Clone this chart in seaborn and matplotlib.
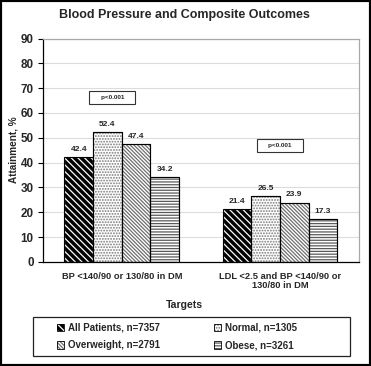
import matplotlib
matplotlib.use("Agg")
import matplotlib.pyplot as plt
import numpy as np
import pandas as pd
import seaborn as sns
from matplotlib.legend_handler import HandlerTuple
from matplotlib.patches import Patch, Rectangle

# data
targets = ["BP <140/90 or 130/80 in DM", "LDL <2.5 and BP <140/90 or\n130/80 in DM"]
groups = ["All Patients, n=7357", "Normal, n=1305", "Overweight, n=2791", "Obese, n=3261"]
all_patients = [42.4, 21.4]
normal = [52.4, 26.5]
overweight = [47.4, 23.9]
obese = [34.2, 17.3]
p_labels = ["p<0.001", "p<0.001"]

rows = []
for g, vals in zip(groups, [all_patients, normal, overweight, obese]):
    for t, v in zip(targets, vals):
        rows.append({"Targets": t, "Group": g, "Attainment": v})
df = pd.DataFrame(rows)

sns.set_style("white")
plt.rcParams["font.family"] = ["Liberation Sans", "DejaVu Sans"]
plt.rcParams["font.weight"] = "bold"
plt.rcParams["hatch.linewidth"] = 0.9

# fill style per group: face colour, hatch, hatch colour
faces = ["black", "white", "white", "white"]
hatches = ["\\" * 5, "." * 6, "\\" * 9, "-" * 6]
hatch_cols = ["white", "#7a7a7a", "#707070", "#5a5a5a"]

fig = plt.figure(figsize=(3.71, 3.66), dpi=100)
ax = fig.add_axes([0.115, 0.2842, 0.8527, 0.6106])

sns.barplot(data=df, x="Targets", y="Attainment", hue="Group", hue_order=groups,
            palette=faces, width=0.725, linewidth=0.8, legend=False, ax=ax)

for i, cont in enumerate(ax.containers):
    for p in cont:
        p.set_facecolor(faces[i])
        p.set_edgecolor(hatch_cols[i])
        p.set_hatch(hatches[i])
        # black outline on top of the hatch
        ax.add_patch(Rectangle(p.get_xy(), p.get_width(), p.get_height(),
                               fill=False, edgecolor="black", linewidth=0.8, zorder=3))
    ax.bar_label(cont, fmt="%.1f", padding=3, fontsize=6, fontweight="bold")

ax.set_ylim(0, 90)
ax.set_yticks(np.arange(0, 91, 10))
ax.set_xlim(-0.5, 1.5)
ax.set_xticks([0, 1])
ax.set_xticklabels(targets, fontsize=6.7, fontweight="bold", linespacing=1.1)
ax.set_xticks([-0.5, 0.5, 1.5], minor=True)
ax.tick_params(axis="x", which="major", length=0, pad=7)
ax.tick_params(axis="x", which="minor", length=4, width=0.8, direction="out", color="black")
ax.tick_params(axis="y", length=3.5, width=0.8, direction="out", color="black",
               labelsize=8.4, pad=3, left=True)
for lab in ax.get_yticklabels():
    lab.set_fontweight("bold")
ax.set_xlabel("")
ax.set_ylabel("")
ax.yaxis.grid(True, color="#dcdcdc", linewidth=0.8)
ax.set_axisbelow(True)
for s in ["left", "bottom"]:
    ax.spines[s].set_color("black")
    ax.spines[s].set_linewidth(0.9)
for s in ["top", "right"]:
    ax.spines[s].set_color("#a8a8a8")
    ax.spines[s].set_linewidth(0.9)

# p-value boxes
for x, y, lab in zip([-0.06, 1.0], [66.2, 47.0], p_labels):
    ax.text(x, y, "    " + lab + "    ", ha="center", va="center", fontsize=4.6,
            fontweight="bold",
            bbox=dict(boxstyle="square,pad=0.65", facecolor="white",
                      edgecolor="#333333", linewidth=0.8),
            zorder=5)

fig.text(184 / 371, 1 - 15 / 366, "Blood Pressure and Composite Outcomes",
         ha="center", va="center", fontsize=9, fontweight="bold")
fig.text(14 / 371, 1 - 150 / 366, "Attainment, %", ha="center", va="center",
         rotation=90, fontsize=7.2, fontweight="bold")
fig.text(184 / 371, 1 - 305 / 366, "Targets", ha="center", va="center",
         fontsize=7.6, fontweight="bold")

# legend
handles = []
for i in range(4):
    h = Patch(facecolor=faces[i], edgecolor=hatch_cols[i], hatch=hatches[i], linewidth=0)
    o = Patch(fill=False, edgecolor="black", linewidth=0.6)
    handles.append((h, o))
order = [0, 2, 1, 3]
leg = fig.legend([handles[k] for k in order], [groups[k] for k in order],
                 handler_map={tuple: HandlerTuple(ndivide=1)},
                 loc="center left", bbox_to_anchor=(57 / 371, 1 - 336.5 / 366),
                 ncol=2, frameon=False, fontsize=7.0, handlelength=0.75,
                 handleheight=0.75, handletextpad=0.35, columnspacing=5.6,
                 labelspacing=0.8, borderpad=0, borderaxespad=0)
for t in leg.get_texts():
    t.set_fontweight("bold")
fig.add_artist(Rectangle((33 / 371, 1 - 356 / 366), 317 / 371, 39 / 366,
                         transform=fig.transFigure, fill=False,
                         edgecolor="#222222", linewidth=0.9))

# outer frame
fig.add_artist(Rectangle((0, 0), 1, 1, transform=fig.transFigure, fill=False,
                         edgecolor="black", linewidth=3))

fig.savefig("out.png", dpi=100)
